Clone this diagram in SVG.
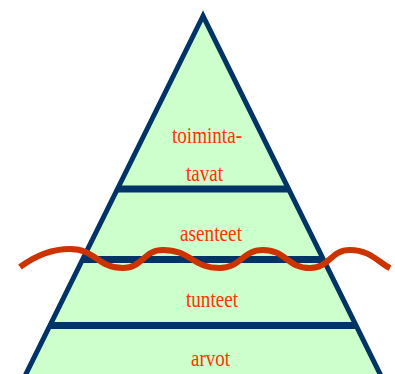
<svg xmlns="http://www.w3.org/2000/svg" width="395" height="374" viewBox="0 0 395 374">
<style>
.lbl{font-family:"Liberation Serif","Times New Roman",serif;font-size:24px;fill:#ff3300;text-anchor:middle}
.bar{stroke:#003366;stroke-width:7;fill:none}
</style>
<rect width="395" height="374" fill="#ffffff"/>
<g id="pyramid">
<polygon points="203,16 20,386 386,386" fill="#ccffcc" stroke="#003366" stroke-width="5" stroke-linejoin="miter"/>
</g>
<g id="bars">
<line class="bar" x1="118" y1="189" x2="288" y2="189"/>
<line class="bar" x1="82" y1="259.5" x2="324" y2="259.5"/>
<line class="bar" x1="49" y1="325.5" x2="357" y2="325.5"/>
</g>
<g id="toimintatavat">
<text class="lbl" x="207" y="143" textLength="70" lengthAdjust="spacingAndGlyphs">toiminta-</text>
<text class="lbl" x="204.5" y="181" textLength="37" lengthAdjust="spacingAndGlyphs">tavat</text>
</g>
<g id="asenteet">
<text class="lbl" x="211" y="241" textLength="62" lengthAdjust="spacingAndGlyphs">asenteet</text>
</g>
<g id="tunteet">
<text class="lbl" x="212" y="307" textLength="52" lengthAdjust="spacingAndGlyphs">tunteet</text>
</g>
<g id="arvot">
<text class="lbl" x="210.5" y="366" textLength="39" lengthAdjust="spacingAndGlyphs">arvot</text>
</g>
<g id="wave">
<path d="M20,267 C35,256 50,249 70,249 C96,249 97,268 123,268 C143,268 143,250 163,250 C191,250 192,268 220,268 C241,268 242,250 263,250 C286,250 287,268 310,268 C330,268 330,250 350,250 C370,250 378,262 390,268" fill="none" stroke="#cc3300" stroke-width="6"/>
</g>
</svg>
